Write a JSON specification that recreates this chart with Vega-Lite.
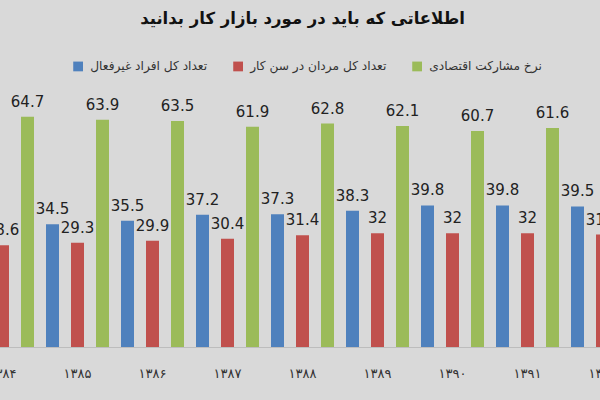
{
  "$schema": "https://vega.github.io/schema/vega-lite/v6.json",
  "autosize": "none",
  "width": 675,
  "height": 249,
  "padding": {"left": -35, "right": -40, "top": 98, "bottom": 53},
  "background": "#d9d9d9",
  "title": {
    "text": "اطلاعاتی که باید در مورد بازار کار بدانید",
    "font": "DejaVu Sans",
    "fontSize": 16.5,
    "fontWeight": "bold",
    "color": "#111111",
    "anchor": "middle",
    "offset": 33
  },
  "data": {
    "values": [
      {"year": "۱۳۸۴", "series": "تعداد کل افراد غیرفعال", "value": 34.0},
      {"year": "۱۳۸۴", "series": "تعداد کل مردان در سن کار", "value": 28.6},
      {"year": "۱۳۸۴", "series": "نرخ مشارکت اقتصادی", "value": 64.7},
      {"year": "۱۳۸۵", "series": "تعداد کل افراد غیرفعال", "value": 34.5},
      {"year": "۱۳۸۵", "series": "تعداد کل مردان در سن کار", "value": 29.3},
      {"year": "۱۳۸۵", "series": "نرخ مشارکت اقتصادی", "value": 63.9},
      {"year": "۱۳۸۶", "series": "تعداد کل افراد غیرفعال", "value": 35.5},
      {"year": "۱۳۸۶", "series": "تعداد کل مردان در سن کار", "value": 29.9},
      {"year": "۱۳۸۶", "series": "نرخ مشارکت اقتصادی", "value": 63.5},
      {"year": "۱۳۸۷", "series": "تعداد کل افراد غیرفعال", "value": 37.2},
      {"year": "۱۳۸۷", "series": "تعداد کل مردان در سن کار", "value": 30.4},
      {"year": "۱۳۸۷", "series": "نرخ مشارکت اقتصادی", "value": 61.9},
      {"year": "۱۳۸۸", "series": "تعداد کل افراد غیرفعال", "value": 37.3},
      {"year": "۱۳۸۸", "series": "تعداد کل مردان در سن کار", "value": 31.4},
      {"year": "۱۳۸۸", "series": "نرخ مشارکت اقتصادی", "value": 62.8},
      {"year": "۱۳۸۹", "series": "تعداد کل افراد غیرفعال", "value": 38.3},
      {"year": "۱۳۸۹", "series": "تعداد کل مردان در سن کار", "value": 32},
      {"year": "۱۳۸۹", "series": "نرخ مشارکت اقتصادی", "value": 62.1},
      {"year": "۱۳۹۰", "series": "تعداد کل افراد غیرفعال", "value": 39.8},
      {"year": "۱۳۹۰", "series": "تعداد کل مردان در سن کار", "value": 32},
      {"year": "۱۳۹۰", "series": "نرخ مشارکت اقتصادی", "value": 60.7},
      {"year": "۱۳۹۱", "series": "تعداد کل افراد غیرفعال", "value": 39.8},
      {"year": "۱۳۹۱", "series": "تعداد کل مردان در سن کار", "value": 32},
      {"year": "۱۳۹۱", "series": "نرخ مشارکت اقتصادی", "value": 61.6},
      {"year": "۱۳۹۲", "series": "تعداد کل افراد غیرفعال", "value": 39.5},
      {"year": "۱۳۹۲", "series": "تعداد کل مردان در سن کار", "value": 31.6},
      {"year": "۱۳۹۲", "series": "نرخ مشارکت اقتصادی", "value": 61.0}
    ]
  },
  "encoding": {
    "x": {
      "field": "year",
      "type": "nominal",
      "sort": null,
      "scale": {"paddingInner": 0, "paddingOuter": 0},
      "axis": {
        "title": null,
        "labelAngle": 0,
        "ticks": false,
        "domainColor": "#bdbdbd",
        "labelFont": "DejaVu Sans",
        "labelFontSize": 13,
        "labelColor": "#333333",
        "labelPadding": 20
      }
    },
    "xOffset": {
      "field": "series",
      "type": "nominal",
      "scale": {
        "domain": ["تعداد کل افراد غیرفعال", "تعداد کل مردان در سن کار", "نرخ مشارکت اقتصادی"],
        "paddingInner": 0.48,
        "paddingOuter": 0.24
      }
    },
    "y": {
      "field": "value",
      "type": "quantitative",
      "scale": {"domain": [0, 70], "nice": false},
      "axis": null
    }
  },
  "layer": [
    {
      "mark": {"type": "bar"},
      "encoding": {
        "color": {
          "field": "series",
          "type": "nominal",
          "scale": {
            "domain": ["تعداد کل افراد غیرفعال", "تعداد کل مردان در سن کار", "نرخ مشارکت اقتصادی"],
            "range": ["#4f81bd", "#c0504d", "#9bbb59"]
          },
          "legend": {
            "title": null,
            "orient": "none",
            "legendX": 107,
            "legendY": -38,
            "direction": "horizontal",
            "symbolType": "square",
            "symbolSize": 95,
            "symbolStrokeWidth": 0,
            "labelFont": "DejaVu Sans",
            "labelFontSize": 12.2,
            "labelColor": "#333333",
            "columnPadding": 24,
            "labelOffset": 6
          }
        }
      }
    },
    {
      "mark": {
        "type": "text",
        "baseline": "bottom",
        "dy": -7,
        "font": "DejaVu Sans",
        "fontSize": 15,
        "color": "#222222"
      },
      "encoding": {
        "text": {"field": "value", "type": "quantitative"}
      }
    }
  ],
  "config": {
    "view": {"stroke": null}
  }
}
